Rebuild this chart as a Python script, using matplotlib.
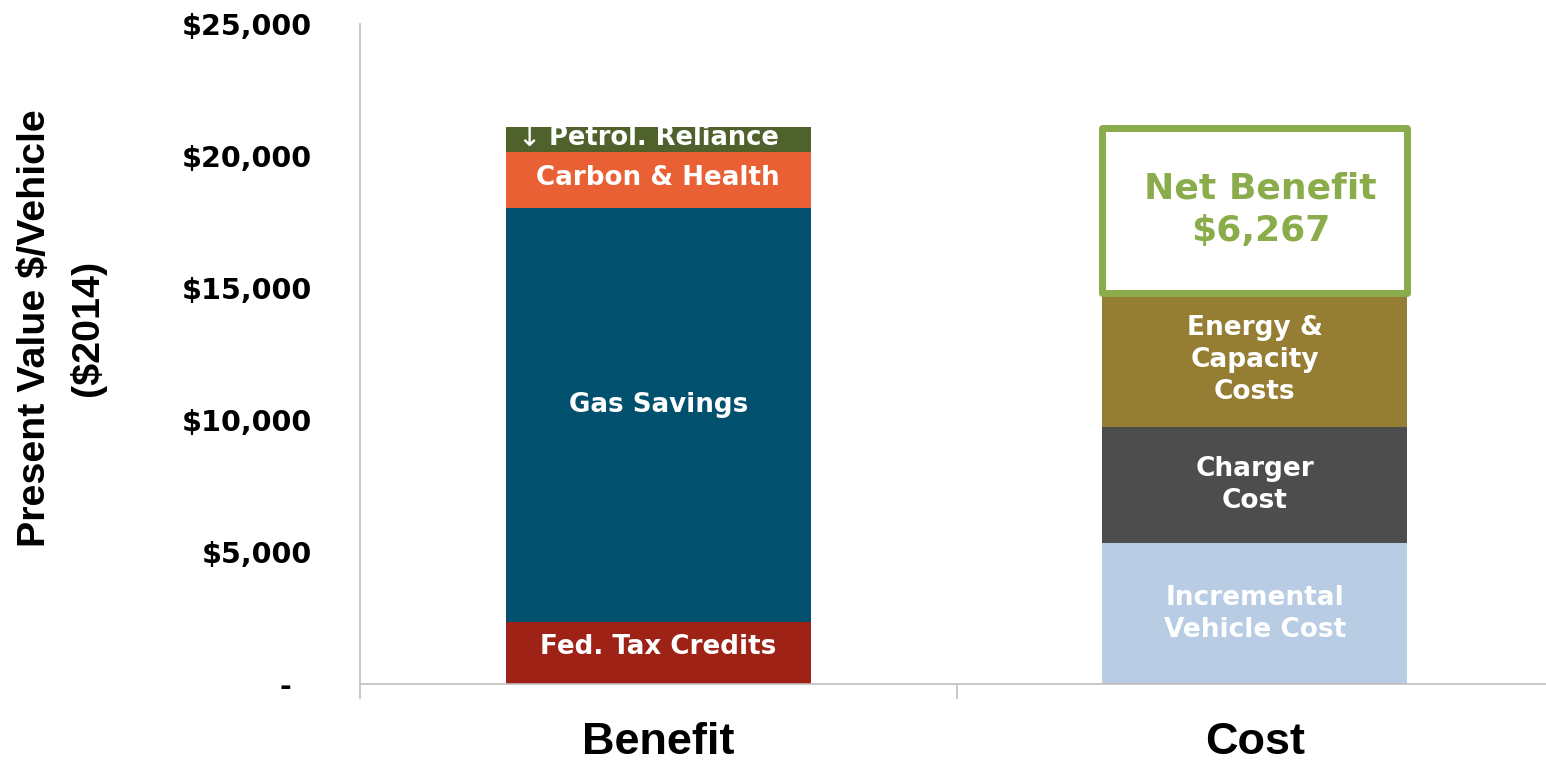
import matplotlib.pyplot as plt
from matplotlib.ticker import FuncFormatter, FixedLocator

# data ($ per vehicle, PV 2014)
categories = ['Benefit', 'Cost']
benefit_labels = ['Fed. Tax Credits', 'Gas Savings', 'Carbon & Health', 'Petrol. Reliance']
benefit_values = [2330, 15700, 2120, 950]
benefit_colors = ['#9E2316', '#00506E', '#E86033', '#4F622B']

cost_labels = ['Incremental\nVehicle Cost', 'Charger\nCost', 'Energy &\nCapacity\nCosts']
cost_values = [5330, 4420, 5060]
cost_colors = ['#B8CCE4', '#4D4D4D', '#957E33']

net_benefit = 6267
green = '#8BAC4A'

fig = plt.figure(figsize=(15.46, 7.63), dpi=100)
ax = fig.add_axes([360 / 1546, 79 / 763, 1193 / 1546, 660 / 763])

bar_w = 0.512
# small upward nudge of each benefit label (data units), like the excel labels
lifts = [220, 400, 60, 40]

# benefit stack
bottom = 0
for lab, val, col, lift in zip(benefit_labels, benefit_values, benefit_colors, lifts):
    ax.bar(0, val, bottom=bottom, width=bar_w, color=col, edgecolor='none')
    if 'Petrol' in lab:
        ax.text(0.01, bottom + val / 2 + lift, lab, ha='center', va='center', color='white',
                fontsize=18.5, fontweight='bold', family='DejaVu Sans')
        ax.text(-0.217, bottom + val / 2 + lift, '\u2193', ha='center', va='center', color='white',
                fontsize=20, family='DejaVu Sans')
    else:
        ax.text(0, bottom + val / 2 + lift, lab, ha='center', va='center', color='white',
                fontsize=18.8, fontweight='bold', family='DejaVu Sans')
    bottom += val

# cost stack
bottom = 0
for lab, val, col in zip(cost_labels, cost_values, cost_colors):
    ax.bar(1, val, bottom=bottom, width=bar_w, color=col, edgecolor='none')
    ax.text(1, bottom + val / 2, lab, ha='center', va='center', color='white',
            fontsize=19, fontweight='bold', family='DejaVu Sans', linespacing=1.29)
    bottom += val

# net benefit box
ax.bar(1, net_benefit, bottom=bottom, width=bar_w, color='white',
       edgecolor=green, linewidth=5, joinstyle='round')
ax.text(1.01, bottom + net_benefit * 0.505, 'Net Benefit\n$6,267', ha='center', va='center',
        color=green, fontsize=26, fontweight='bold', family='DejaVu Sans', linespacing=1.32)

ax.set_xlim(-0.5, 1.5)
ax.set_ylim(0, 25000)

ax.yaxis.set_major_locator(FixedLocator([0, 5000, 10000, 15000, 20000, 25000]))
ax.yaxis.set_major_formatter(FuncFormatter(lambda v, p: '-  ' if v == 0 else f'${v:,.0f}'))
ax.tick_params(axis='y', length=0, pad=34.5, labelsize=20.6)
for t in ax.get_yticklabels():
    t.set_fontweight('bold')
    t.set_family('DejaVu Sans')

ax.set_xticks([0, 1])
ax.set_xticklabels(categories, fontsize=32.5, fontweight='bold', family='Liberation Sans')
ax.tick_params(axis='x', which='major', length=0, pad=27)
ax.set_xticks([-0.5, 0.5, 1.5], minor=True)
ax.tick_params(axis='x', which='minor', length=11, color='#BFBFBF', width=1.2)

# y label, two centred lines
fig.text(35 / 1546, 1 - 328 / 763, 'Present Value $/Vehicle', rotation=90, ha='center', va='center',
         fontsize=28.4, fontweight='bold', family='Liberation Sans')
fig.text(88 / 1546, 1 - 328 / 763, '($2014)', rotation=90, ha='center', va='center',
         fontsize=28.4, fontweight='bold', family='Liberation Sans')

for s in ['top', 'right']:
    ax.spines[s].set_visible(False)
ax.spines['left'].set_color('#BFBFBF')
ax.spines['bottom'].set_color('#BFBFBF')
ax.spines['left'].set_linewidth(1.2)
ax.spines['bottom'].set_linewidth(1.2)

fig.savefig('out.png', dpi=100)
